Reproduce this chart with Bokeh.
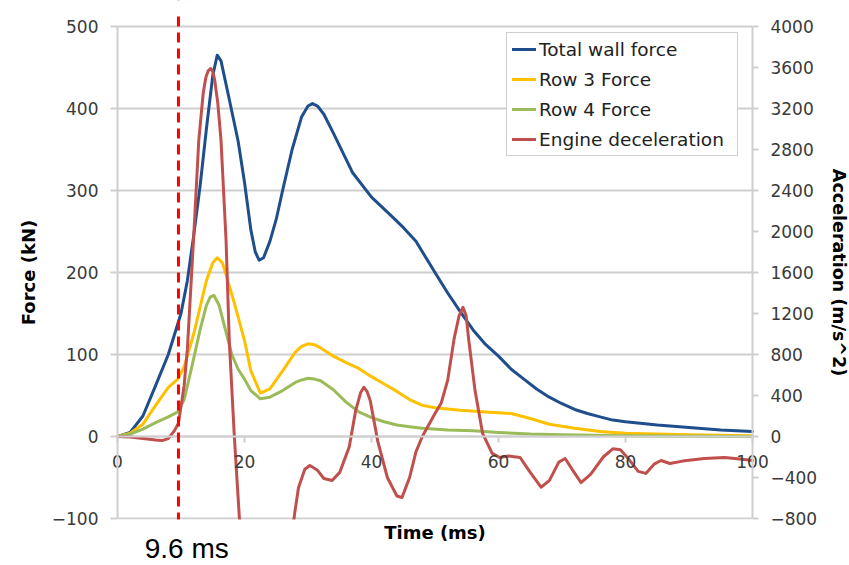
from bokeh.plotting import figure
from bokeh.models import Range1d, LinearAxis, FixedTicker, Span, Label, BoxAnnotation
from bokeh.embed import file_html
from bokeh.resources import INLINE

# ---------------- data ----------------
time_total = [0, 2, 4, 6, 8, 10, 11, 12, 13, 14, 15, 15.7, 16.3, 17.5, 19, 20, 21, 21.7, 22.3, 23, 24,
              25, 26, 27.5, 29, 30, 30.7, 31.5, 32.5, 34, 37, 40, 43, 45, 47, 50, 52, 54, 56, 58, 60, 62,
              64, 66, 68, 70, 72, 74, 76, 78, 80, 85, 90, 95, 100]
force_total = [0, 5, 25, 62, 100, 150, 190, 245, 305, 375, 440, 465, 458, 415, 360, 310, 252, 225, 215,
               218, 238, 265, 300, 350, 390, 403, 406, 403, 393, 370, 322, 292, 270, 255, 238, 200, 175,
               152, 130, 112, 98, 82, 70, 58, 48, 40, 33, 28, 24, 20, 18, 14, 11, 8, 6]

time_row3 = [0, 2, 4, 6, 8, 9.5, 10.5, 12, 14, 15, 15.7, 16.5, 17, 18.5, 20, 21, 22.5, 24, 26, 28, 29,
             30, 31, 32, 34, 36, 38, 40, 42, 44, 46, 48, 50, 54, 58, 62, 65, 68, 72, 76, 80, 90, 100]
force_row3 = [0, 4, 15, 38, 60, 70, 85, 125, 190, 212, 218, 212, 200, 160, 117, 80, 53, 58, 80, 103, 110,
              113, 112, 108, 98, 90, 83, 73, 64, 55, 45, 38, 35, 32, 30, 28, 22, 15, 10, 6, 4, 2, 1]

time_row4 = [0, 2, 4, 6, 8, 9.5, 10.5, 12, 13, 14, 14.6, 15.2, 16, 17, 18, 19, 20, 21, 22.5, 24, 26, 28,
             29, 30, 31, 32, 34, 36, 38, 40, 42, 44, 46, 48, 52, 56, 60, 65, 70, 80, 100]
force_row4 = [0, 3, 9, 17, 24, 30, 45, 95, 130, 160, 170, 172, 160, 130, 100, 82, 70, 56, 46, 48, 56, 66,
              69, 71, 70, 68, 57, 42, 30, 23, 18, 14, 12, 10, 8, 7, 5, 3, 2, 1, 0]

time_engine = [0, 2, 4, 6, 7, 8, 9, 9.6, 10.5, 11, 12, 12.8, 13.5, 13.9, 14.3, 14.7, 15.0, 15.3, 15.8,
               16.3, 17.1, 17.6, 18.4, 19.2, 20, 22, 24, 26, 27.9, 28.5, 29.5, 30.3, 31.5, 32.5, 33.8,
               35, 36.5, 37.5, 38.3, 38.8, 39.3, 39.8, 41, 42.5, 44, 44.8, 46, 47, 48, 50, 51, 52, 53,
               53.8, 54.4, 54.9, 55.3, 56.3, 57.5, 59, 60.2, 61.5, 63.4, 65, 66.7, 68, 69.5, 70.5, 71.7,
               73, 74.5, 76.5, 78, 79.2, 80.5, 82, 83.2, 84.5, 85.6, 87, 89, 92.4, 95.6, 98, 100]
accel_engine = [0, -5, -20, -35, -40, -20, 60, 130, 500, 850, 1950, 2890, 3350, 3500, 3570, 3590, 3560,
                3480, 3250, 2890, 1910, 940, 0, -800, -1500, -2300, -2300, -1700, -750, -500, -320,
                -283, -330, -410, -430, -350, -100, 250, 430, 480, 440, 350, -50, -400, -580, -595,
                -400, -150, 0, 225, 330, 550, 950, 1180, 1260, 1180, 950, 450, 30, -165, -205, -190,
                -205, -350, -495, -430, -250, -215, -330, -450, -370, -200, -120, -130, -220, -340,
                -360, -270, -234, -263, -240, -215, -205, -220, -234]

time_ticks = [0, 20, 40, 60, 80, 100]
force_ticks = [-100, 0, 100, 200, 300, 400, 500]
accel_ticks = [-800, -400, 0, 400, 800, 1200, 1600, 2000, 2400, 2800, 3200, 3600, 4000]
marker_time = 9.6
marker_text = "9.6 ms"

# ---------------- figure (frame covers the whole canvas, axes crossing inside) ----------------
FONT = "DejaVu Sans"
GRID = "#cfcfcf"
TICK_TXT = "#3a3a3a"

p = figure(width=849, height=565, output_backend="svg", toolbar_location=None, title=None,
           x_range=Range1d(-18.425, 115.276), y_range=Range1d(-157.3, 531.7),
           min_border_left=0, min_border_right=0, min_border_top=0, min_border_bottom=0)
p.outline_line_color = None
p.background_fill_color = "white"
p.border_fill_color = "white"
p.extra_y_ranges = {"accel": Range1d(-1258.5, 4253.7)}

# grid
p.xgrid.visible = False
p.ygrid.ticker = FixedTicker(ticks=force_ticks)
p.ygrid.grid_line_color = GRID
p.ygrid.grid_line_width = 2
p.ygrid.cross_bounds = (0, 100)

# left axis (crossing at time 0)
ya = p.yaxis[0]
ya.fixed_location = 0
ya.ticker = FixedTicker(ticks=force_ticks)
ya.bounds = (-100, 500)
ya.axis_label = "Force (kN)"
ya.axis_label_text_font = FONT
ya.axis_label_text_font_style = "bold"
ya.axis_label_text_font_size = "18px"
ya.axis_label_text_color = "black"
ya.axis_label_standoff = 10
ya.major_label_text_font = FONT
ya.major_label_text_font_size = "17px"
ya.major_label_text_color = TICK_TXT
ya.major_label_standoff = 12
ya.axis_line_color = GRID
ya.axis_line_width = 2
ya.major_tick_line_color = GRID
ya.major_tick_line_width = 2
ya.major_tick_in = 0
ya.major_tick_out = 7
ya.minor_tick_line_color = None

# right axis (crossing at time 100)
ra = LinearAxis(y_range_name="accel", ticker=FixedTicker(ticks=accel_ticks))
ra.fixed_location = 100
ra.bounds = (-800, 4000)
ra.axis_label = "Acceleration (m/s^2)"
ra.axis_label_text_font = FONT
ra.axis_label_text_font_style = "bold"
ra.axis_label_text_font_size = "17.5px"
ra.axis_label_text_color = "black"
ra.axis_label_standoff = 9
ra.major_label_text_font = FONT
ra.major_label_text_font_size = "17px"
ra.major_label_text_color = TICK_TXT
ra.major_label_standoff = 12
ra.axis_line_color = GRID
ra.axis_line_width = 2
ra.major_tick_line_color = GRID
ra.major_tick_line_width = 2
ra.major_tick_in = 0
ra.major_tick_out = 6
ra.minor_tick_line_color = None
p.add_layout(ra, "right")

# time axis crossing at force 0
xa = p.xaxis[0]
xa.fixed_location = 0
xa.bounds = (0, 100)
xa.ticker = FixedTicker(ticks=time_ticks)
xa.major_label_text_font = FONT
xa.major_label_text_font_size = "17px"
xa.major_label_text_color = TICK_TXT
xa.major_label_standoff = 12
xa.axis_line_color = GRID
xa.axis_line_width = 2
xa.major_tick_line_color = GRID
xa.major_tick_line_width = 2
xa.major_tick_in = 0
xa.major_tick_out = 6
xa.minor_tick_line_color = None

# ---------------- series ----------------
common = dict(line_width=3, line_join="round", line_cap="round")
p.line(time_total, force_total, line_color="#1f4e8c", legend_label="Total wall force", **common)
p.line(time_row3, force_row3, line_color="#ffc000", legend_label="Row 3 Force", **common)
p.line(time_row4, force_row4, line_color="#9bbb59", legend_label="Row 4 Force", **common)
p.line(time_engine, accel_engine, y_range_name="accel", line_color="#c0504d",
       legend_label="Engine deceleration", **common)

# marker line
p.add_layout(Span(location=marker_time, dimension="height", line_color="#ff0000",
                  line_width=3, line_dash="10 6"))

# the chart area ends at -100 kN below and a little above 500 kN at the top
p.add_layout(BoxAnnotation(top=-101.2, left=0, right=100, fill_color="white", fill_alpha=1.0,
                           line_color=None))
p.add_layout(BoxAnnotation(bottom=517, left=0, right=100, fill_color="white", fill_alpha=1.0,
                           line_color=None))

# texts below the chart area
p.add_layout(Label(x=50, y=-117, text="Time (ms)", text_font=FONT, text_font_style="bold",
                   text_font_size="18px", text_align="center", text_baseline="middle",
                   text_color="black"))
p.add_layout(Label(x=10.9, y=-137, text=marker_text, text_font="Liberation Sans",
                   text_font_size="28px", text_align="center", text_baseline="middle",
                   text_color="black"))

# legend
lg = p.legend[0]
lg.location = (506, 409)
lg.label_text_font = FONT
lg.label_text_font_size = "18.5px"
lg.label_text_color = "#222222"
lg.glyph_width = 24
lg.glyph_height = 22
lg.label_height = 22
lg.label_width = 193
lg.spacing = 8
lg.padding = 5
lg.margin = 0
lg.label_standoff = 3
lg.border_line_color = "#a0a0a0"
lg.border_line_width = 1
lg.background_fill_color = "white"
lg.background_fill_alpha = 1.0

open("out.html", "w").write(file_html(p, INLINE))
